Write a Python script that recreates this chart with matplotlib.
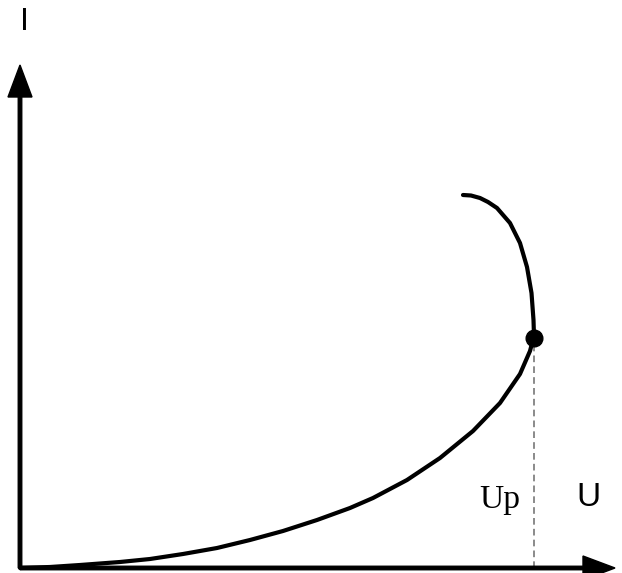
import matplotlib.pyplot as plt

# curve (units: pixels from the origin)
u_vals = [0, 30, 60, 100, 130, 163, 197, 230, 263, 297, 330, 353, 387, 420, 453,
          480, 500, 510, 514, 513.5, 511.5, 507, 500, 490, 477, 468, 460, 451, 443]
i_vals = [0, 1, 3, 6, 9, 14, 20, 28, 37, 48, 60, 70, 88, 110, 137,
          165, 194, 217, 232, 248, 275, 301, 325, 345, 360, 366, 370, 372.5, 373]
up_point = (514, 230)

fig = plt.figure(figsize=(6.22, 5.73), dpi=100)
ax = fig.add_axes([0, 0, 1, 1])
ax.set_xlim(-20, 602)
ax.set_ylim(-5, 568)
ax.axis('off')

# axes with arrow heads
ax.arrow(0, 0, 0, 503, width=3.5, head_width=24, head_length=32,
         length_includes_head=True, color='black', zorder=3)
ax.arrow(0, 0, 595, 0, width=3.5, head_width=24, head_length=32,
         length_includes_head=True, color='black', zorder=3)

ax.plot(u_vals, i_vals, color='black', lw=3, solid_capstyle='round',
        solid_joinstyle='round', zorder=4)
ax.plot([up_point[0], up_point[0]], [0, up_point[1]], color='#777777', lw=1.2,
        linestyle=(0, (4, 2.5)), zorder=2)
ax.plot(*up_point, 'o', color='black', markersize=12, zorder=5)

ax.text(4.5, 546, 'I', fontsize=23, family='Liberation Sans', ha='center', va='center')
ax.text(568, 71, 'U', fontsize=24, family='Liberation Sans', ha='center', va='center')
ax.text(480, 60, 'Up', fontsize=24, family='Liberation Serif', ha='center', va='baseline')

plt.savefig('out.png', dpi=100)
plt.close()
